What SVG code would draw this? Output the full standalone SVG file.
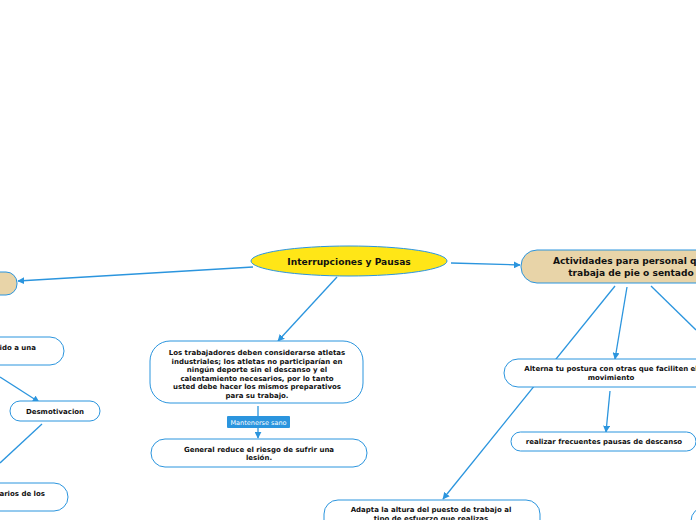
<svg xmlns="http://www.w3.org/2000/svg" width="696" height="520" viewBox="0 0 696 520">
<defs>
<marker id="arr" viewBox="0 0 10 10" refX="9" refY="5" markerWidth="7" markerHeight="7" markerUnits="userSpaceOnUse" orient="auto">
<path d="M0,0 L10,5 L0,10 z" fill="#2B95DE"/>
</marker>
</defs>
<style>
.n{fill:#fff;stroke:#2B95DE;stroke-width:1}
.tan{fill:#E8D4A8;stroke:#2B95DE;stroke-width:1}
.c{fill:none;stroke:#2B95DE;stroke-width:1.3}
.t{font-family:"DejaVu Sans",Verdana,sans-serif;font-weight:bold;fill:#111;text-anchor:middle}
.s{font-size:7px}
.m{font-size:9.1px}
.lb{font-family:"DejaVu Sans",Verdana,sans-serif;font-size:6.5px;fill:#fff;text-anchor:middle}
</style>
<rect width="696" height="520" fill="#fff"/>
<g id="connectors">
<line class="c" x1="253" y1="267" x2="18" y2="281" marker-end="url(#arr)"/>
<line class="c" x1="451" y1="263" x2="520" y2="265" marker-end="url(#arr)"/>
<line class="c" x1="337" y1="277" x2="278" y2="341" marker-end="url(#arr)"/>
<line class="c" x1="258" y1="406" x2="258" y2="438" marker-end="url(#arr)"/>
<line class="c" x1="0" y1="377" x2="39" y2="402" marker-end="url(#arr)"/>
<line class="c" x1="42" y1="424" x2="0" y2="463"/>
<line class="c" x1="615" y1="286" x2="443" y2="499" marker-end="url(#arr)"/>
<line class="c" x1="627" y1="287" x2="615" y2="359" marker-end="url(#arr)"/>
<line class="c" x1="651" y1="286" x2="696" y2="330"/>
<line class="c" x1="610" y1="391" x2="606" y2="432" marker-end="url(#arr)"/>
</g>
<g id="central">
<ellipse cx="349" cy="261" rx="98" ry="15" fill="#FFE617" stroke="#2B95DE" stroke-width="1"/>
<text class="t m" x="349" y="265">Interrupciones y Pausas</text>
</g>
<g id="left-tan">
<rect class="tan" x="-60" y="272" width="77" height="23" rx="11"/>
</g>
<g id="right-tan">
<rect class="tan" x="521" y="250" width="220" height="33" rx="16"/>
<text class="t m" x="631" y="264">Actividades para personal que</text>
<text class="t m" x="631" y="276">trabaja de pie o sentado</text>
</g>
<g id="atletas">
<rect class="n" x="150" y="341" width="213" height="62" rx="20"/>
<text class="t s" x="257" y="355">Los trabajadores deben considerarse atletas</text>
<text class="t s" x="257" y="363.5">industriales; los atletas no participarían en</text>
<text class="t s" x="257" y="372">ningún deporte sin el descanso y el</text>
<text class="t s" x="257" y="380.5">calentamiento necesarios, por lo tanto</text>
<text class="t s" x="257" y="389">usted debe hacer los mismos preparativos</text>
<text class="t s" x="257" y="397.5">para su trabajo.</text>
</g>
<g id="label-sano">
<rect x="227" y="416" width="63" height="12" rx="1" fill="#2B95DE"/>
<text class="lb" x="258.5" y="424.5">Mantenerse sano</text>
</g>
<g id="general">
<rect class="n" x="151" y="439" width="216" height="28" rx="14"/>
<text class="t s" x="259" y="451.5">General reduce el riesgo de sufrir una</text>
<text class="t s" x="259" y="460">lesión.</text>
</g>
<g id="ido">
<rect class="n" x="-120" y="337" width="184" height="28" rx="14"/>
<text class="t s" x="36" y="350" style="text-anchor:end">ido a una</text>
</g>
<g id="desmotivacion">
<rect class="n" x="10" y="401" width="90" height="20" rx="10"/>
<text class="t s" x="55" y="413.5">Desmotivacion</text>
</g>
<g id="arios">
<rect class="n" x="-120" y="483" width="188" height="28" rx="14"/>
<text class="t s" x="45" y="496" style="text-anchor:end">arios de los</text>
</g>
<g id="alterna">
<rect class="n" x="504" y="359" width="214" height="28" rx="14"/>
<text class="t s" x="611" y="371">Alterna tu postura con otras que faciliten el</text>
<text class="t s" x="611" y="380">movimiento</text>
</g>
<g id="pausas">
<rect class="n" x="511" y="432" width="185" height="19" rx="9.5"/>
<text class="t s" x="604" y="444">realizar frecuentes pausas de descanso</text>
</g>
<g id="adapta">
<rect class="n" x="324" y="500" width="216" height="36" rx="14"/>
<text class="t s" x="431" y="512">Adapta la altura del puesto de trabajo al</text>
<text class="t s" x="431" y="520.5">tipo de esfuerzo que realizas</text>
</g>
<g id="corner">
<rect class="n" x="691" y="507" width="80" height="30" rx="14"/>
</g>
</svg>
